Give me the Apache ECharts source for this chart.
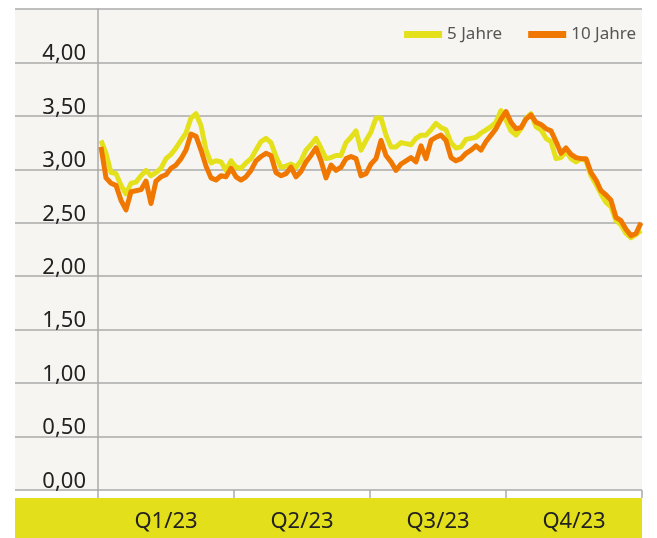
<!DOCTYPE html>
<html>
<head>
    <meta charset="utf-8">
    <script src="https://cdn.jsdelivr.net/npm/echarts@6/dist/echarts.min.js"></script>
    <style>
        html, body { margin: 0; padding: 0; background: #fff; }
    </style>
</head>
<body>
    <div id="main" style="width: 657px;height:538px;"></div>
    <script type="text/javascript">
        // Rendite in % (ca. alle 3-4 Tage, 2023)
        var yield5 = [
            3.27, 3.15, 2.97, 2.96, 2.85, 2.77, 2.87, 2.88, 2.94, 2.99,
            2.94, 2.97, 3.01, 3.10, 3.14, 3.20, 3.27, 3.34, 3.48, 3.52,
            3.41, 3.18, 3.06, 3.08, 3.07, 2.99, 3.08, 3.02, 3.01, 3.06,
            3.10, 3.18, 3.26, 3.29, 3.25, 3.12, 3.02, 3.03, 3.05, 3.02,
            3.08, 3.18, 3.23, 3.29, 3.20, 3.10, 3.11, 3.13, 3.13, 3.25,
            3.30, 3.36, 3.18, 3.27, 3.35, 3.48, 3.48, 3.32, 3.21, 3.21,
            3.25, 3.24, 3.23, 3.29, 3.32, 3.32, 3.37, 3.43, 3.39, 3.37,
            3.25, 3.20, 3.21, 3.28, 3.29, 3.30, 3.34, 3.37, 3.40, 3.44,
            3.55, 3.46, 3.36, 3.32, 3.38, 3.48, 3.52, 3.40, 3.37, 3.29,
            3.26, 3.10, 3.11, 3.17, 3.10, 3.07, 3.10, 3.08, 2.94, 2.86,
            2.77, 2.69, 2.65, 2.52, 2.48, 2.40, 2.36, 2.39, 2.43
        ];
        var yield10 = [
            3.21, 2.92, 2.87, 2.85, 2.71, 2.62, 2.79, 2.80, 2.81, 2.89,
            2.68, 2.89, 2.93, 2.95, 3.01, 3.04, 3.10, 3.18, 3.33, 3.31,
            3.18, 3.03, 2.92, 2.90, 2.94, 2.93, 3.01, 2.93, 2.90, 2.93,
            2.99, 3.08, 3.12, 3.15, 3.13, 2.97, 2.94, 2.96, 3.02, 2.93,
            2.98, 3.07, 3.13, 3.20, 3.08, 2.92, 3.04, 2.99, 3.02, 3.10,
            3.12, 3.10, 2.94, 2.96, 3.05, 3.10, 3.27, 3.13, 3.07, 2.99,
            3.05, 3.08, 3.11, 3.07, 3.22, 3.10, 3.27, 3.30, 3.32, 3.27,
            3.11, 3.08, 3.10, 3.15, 3.18, 3.22, 3.18, 3.26, 3.32, 3.38,
            3.47, 3.54, 3.44, 3.38, 3.39, 3.47, 3.51, 3.44, 3.42, 3.38,
            3.36, 3.26, 3.15, 3.20, 3.14, 3.11, 3.10, 3.10, 2.97, 2.90,
            2.80, 2.76, 2.71, 2.55, 2.52, 2.44, 2.38, 2.40, 2.50
        ];
        var quarters = ['Q1/23', 'Q2/23', 'Q3/23', 'Q4/23'];
        var seriesNames = ['5 Jahre', '10 Jahre'];

        var toPoints = function (arr) {
            var res = [];
            for (var i = 0; i < arr.length; i++) {
                res.push([i, arr[i]]);
            }
            return res;
        };

        var myChart = echarts.init(document.getElementById('main'));
        var fontFamily = '"Noto Sans", "Open Sans", sans-serif';

        var option = {
            animation: false,
            textStyle: { fontFamily: fontFamily },
            legend: {
                right: 16,
                top: 21,
                itemWidth: 38,
                itemHeight: 7,
                itemGap: 26,
                icon: 'rect',
                textStyle: { fontSize: 17, color: '#555', fontFamily: fontFamily },
                data: seriesNames
            },
            graphic: [{
                type: 'rect',
                shape: { x: 15, y: 498, width: 627, height: 40 },
                style: { fill: '#e3df1a' },
                z: -1
            }],
            grid: [
                { left: 15, right: 15, top: 9, bottom: 48, show: true, backgroundColor: '#f6f5f1', borderWidth: 0 },
                { left: 98, right: 15, top: 9, bottom: 48 }
            ],
            xAxis: [
                {
                    type: 'value',
                    gridIndex: 0,
                    min: -17.2,
                    max: 108.2,
                    show: false
                },
                {
                    type: 'category',
                    gridIndex: 1,
                    data: quarters,
                    boundaryGap: true,
                    axisLine: { show: false },
                    axisTick: { show: true, length: 8, lineStyle: { color: '#aaa', width: 1.5 } },
                    axisLabel: { margin: 21, fontSize: 22, color: '#222', fontFamily: fontFamily }
                }
            ],
            yAxis: [
                {
                    type: 'value',
                    gridIndex: 0,
                    min: 0,
                    max: 4.5,
                    interval: 0.5,
                    axisLine: { show: false },
                    axisTick: { show: false },
                    splitLine: { lineStyle: { color: '#aaa', width: 1.5 } },
                    axisLabel: {
                        inside: true,
                        margin: 71,
                        align: 'right',
                        verticalAlign: 'bottom',
                        lineHeight: 17,
                        fontSize: 22,
                        color: '#222',
                        fontFamily: fontFamily,
                        showMaxLabel: false,
                        formatter: function (v) {
                            return v.toFixed(2).replace('.', ',');
                        }
                    }
                },
                {
                    type: 'value',
                    gridIndex: 1,
                    min: 0,
                    max: 4.5,
                    axisLine: { show: true, lineStyle: { color: '#aaa', width: 1.5 } },
                    axisTick: { show: false },
                    axisLabel: { show: false },
                    splitLine: { show: false }
                }
            ],
            series: [
                {
                    name: seriesNames[0],
                    type: 'line',
                    xAxisIndex: 0,
                    yAxisIndex: 0,
                    data: toPoints(yield5),
                    showSymbol: false,
                    color: '#e4e11c',
                    lineStyle: { width: 5, color: '#e4e11c', join: 'round' }
                },
                {
                    name: seriesNames[1],
                    type: 'line',
                    xAxisIndex: 0,
                    yAxisIndex: 0,
                    data: toPoints(yield10),
                    showSymbol: false,
                    color: '#f07800',
                    lineStyle: { width: 5, color: '#f07800', join: 'round' }
                }
            ]
        };

        myChart.setOption(option);
    </script>
</body>
</html>
